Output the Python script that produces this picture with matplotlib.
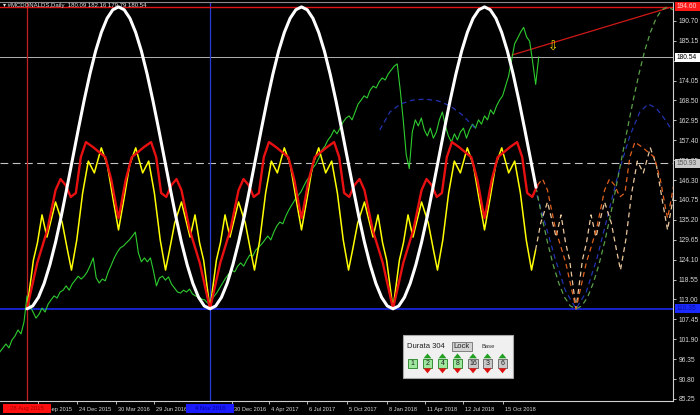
import numpy as np
import matplotlib.pyplot as plt
from matplotlib.patches import Rectangle, Polygon
import matplotlib.transforms as mtransforms

plt.rcParams['font.family'] = ['Liberation Sans', 'DejaVu Sans']

# ---------------- data ----------------
cycle_len = 304      # "Durata 304"
last_bar = 850       # last daily bar, counted from the red vertical line

# half cycle (trough -> crest) of each cycle line, phase as fraction of a cycle
white_phase = np.arange(17) / 32
white_half = [110.4, 111.2, 113.6, 117.5, 122.7, 129.0, 136.3, 144.3, 152.5,
              160.7, 168.6, 175.9, 182.3, 187.5, 191.4, 193.8, 194.6]

red_phase = [0.0, 0.056, 0.111, 0.156, 0.183, 0.211, 0.239, 0.267, 0.294,
             0.322, 0.361, 0.394, 0.428, 0.461, 0.489, 0.5]
red_half = [110.4, 123.2, 132.4, 143.5, 146.6, 144.9, 141.6, 142.7, 152.7,
            156.9, 155.5, 154.1, 152.7, 146.3, 138.5, 135.7]

yellow_phase = [0.0, 0.035, 0.057, 0.082, 0.109, 0.156, 0.193, 0.221, 0.243,
                0.272, 0.304, 0.335, 0.368, 0.406, 0.439, 0.471, 0.5]
yellow_half = [110.4, 124.0, 128.8, 136.6, 130.4, 140.2, 134.3, 126.8, 121.2,
               129.6, 142.7, 151.6, 148.3, 155.3, 150.5, 140.8, 132.4]

# close prices, one every 5 bars starting 45 bars before the red line
close = [98.4, 99.5, 100.6, 99.5, 101.7, 102.8, 104.5, 103.4, 106.7, 114.0,
         111.2, 109.5, 107.8, 108.9, 110.6, 109.5, 111.7, 112.9, 114.0, 113.4,
         115.1, 115.6, 116.8, 115.6, 117.3, 118.4, 119.5, 118.7, 119.5, 120.7,
         122.5, 124.6, 119.0, 117.6, 118.7, 118.2, 120.7, 122.6, 124.6, 126.2,
         127.4, 127.9, 128.8, 129.6, 130.7, 131.8, 126.0, 123.5, 124.6, 123.5,
         124.6, 121.0, 116.8, 119.0, 119.5, 118.4, 119.3, 117.3, 116.2, 115.1,
         114.8, 115.6, 115.1, 115.9, 114.5, 114.0, 113.7, 113.1, 112.9, 112.0,
         112.6, 113.7, 114.8, 116.2, 117.6, 119.0, 120.1, 121.2, 120.7, 122.3,
         123.2, 122.3, 124.0, 125.4, 125.1, 126.8, 127.6, 128.5, 129.6, 130.7,
         129.6, 131.8, 133.5, 134.6, 134.1, 136.3, 138.0, 139.4, 140.8, 141.9,
         143.0, 144.7, 146.3, 147.4, 149.7, 150.8, 152.5, 154.7, 155.8, 157.5,
         158.6, 160.3, 159.2, 160.8, 162.5, 163.6, 164.2, 163.1, 165.3, 167.5,
         168.6, 169.8, 169.2, 171.4, 172.5, 172.0, 173.7, 174.8, 174.2, 175.9,
         177.0, 178.1, 178.7, 171.4, 163.0, 153.3, 149.5, 159.7, 163.1, 161.4,
         163.6, 160.3, 158.6, 160.8, 158.0, 159.7, 163.1, 165.3, 161.4, 158.6,
         156.9, 159.2, 157.5, 159.7, 160.8, 158.0, 160.3, 161.9, 160.8, 163.1,
         161.9, 164.2, 163.1, 165.9, 164.7, 167.0, 168.6, 169.8, 172.5, 175.3,
         179.8, 184.3, 185.9, 187.6, 188.9, 186.2, 185.0, 179.2, 173.0, 180.6]
close_start, close_step = -45, 5

# blue dashed cycle pieces
blue_mid_bars = [586, 603, 620, 640, 661, 683, 703, 723, 744]
blue_mid = [160.3, 165.3, 167.5, 168.6, 168.9, 168.4, 167.0, 164.5, 160.8]
blue_proj_bars = [847, 860, 877, 894, 912, 929, 947, 965, 983, 1002, 1018,
                  1032, 1045, 1058, 1071]
blue_proj = [142.1, 134.6, 124.6, 115.6, 110.4, 115.1, 124.6, 136.6, 148.6,
             158.9, 165.3, 167.5, 166.4, 163.6, 160.3]

trend_bars = [806, 1065]
trend_price = [181.2, 194.3]

top_level = 194.60
last_close = 180.54
mid_level = 150.93
base_level = 110.35

ytick_vals = [85.25, 90.80, 96.35, 101.90, 107.45, 113.00, 118.55, 124.10,
              129.65, 135.20, 140.75, 146.30, 151.85, 157.40, 162.95, 168.50,
              174.05, 179.60, 185.15, 190.70]
date_bars = [18, 83, 148, 211, 341, 402, 465, 532, 598, 661, 724, 791]
date_labels = ['17 Sep 2015', '24 Dec 2015', '30 Mar 2016', '29 Jun 2016',
               '30 Dec 2016', '4 Apr 2017', '6 Jul 2017',
               '5 Oct 2017', '8 Jan 2018', '11 Apr 2018', '12 Jul 2018',
               '15 Oct 2018']


def full_cycles(phase, half, n=4):
    phase = np.asarray(phase, float)
    half = np.asarray(half, float)
    ph = np.concatenate([phase, 1 - phase[-2::-1]])
    val = np.concatenate([half, half[-2::-1]])
    xs = [(c + ph[:-1]) * cycle_len for c in range(n)]
    ys = [val[:-1] for c in range(n)]
    return np.concatenate(xs), np.concatenate(ys)


def split(x, y):
    i = np.searchsorted(x, last_bar, side='right') - 1
    return (x[:i + 1], y[:i + 1]), (x[i:], y[i:])


# ---------------- figure ----------------
px_per_bar = 0.602
fig = plt.figure(figsize=(7, 4.15), dpi=100, facecolor='black')
ax = fig.add_axes([0, 14 / 415, 673 / 700, 399 / 415], facecolor='black')
ax.set_xlim(-27 / px_per_bar, 646 / px_per_bar)
ax.set_ylim(84.69, 195.97)

ax.spines['left'].set_visible(False)
ax.spines['top'].set_color('#8a8a8a')
for s in ('right', 'bottom'):
    ax.spines[s].set_color('#d0d0d0')
    ax.spines[s].set_linewidth(0.8)

ax.yaxis.tick_right()
ax.set_yticks(ytick_vals)
# the 179.60 tag sits under the last-price box
ax.set_yticklabels(['' if v == 179.60 else f'{v:.2f}' for v in ytick_vals])
ax.set_xticks(date_bars)
ax.set_xticklabels(date_labels)
ax.tick_params(axis='both', colors='#d8d8d8', length=2.5, width=0.6, pad=1.5)
ax.tick_params(axis='y', labelsize=4.8)
ax.tick_params(axis='x', labelsize=4.1)
shift = mtransforms.ScaledTranslation(1.5 / 72, 0, fig.dpi_scale_trans)
for lbl in ax.get_xticklabels():
    lbl.set_ha('left')
    lbl.set_transform(lbl.get_transform() + shift)

# level lines
ax.axhline(top_level, color='#e01414', lw=1.0, zorder=1.5)
ax.axhline(last_close, color='#b4b4b4', lw=0.7, zorder=1)
ax.axhline(mid_level, color='#c4c4c4', lw=0.8, dashes=(7, 4), zorder=1)
ax.axhline(base_level, color='#1c2cff', lw=1.1, zorder=1)
ax.axvline(0, color='#c02020', lw=0.9, zorder=1)
ax.axvline(cycle_len, color='#2a3ad0', lw=0.9, zorder=1)
ax.plot(trend_bars, trend_price, color='#d01818', lw=0.9, zorder=1.6)

# price
bars = close_start + close_step * np.arange(len(close))
ax.plot(bars, close, color='#2ecc2e', lw=0.8, zorder=2)

# blue dashed cycle
ax.plot(blue_mid_bars, blue_mid, color='#2232b0', lw=0.9, dashes=(4, 3), zorder=2.2)
ax.plot(blue_proj_bars, blue_proj, color='#2232b0', lw=0.9, dashes=(4, 3), zorder=2.2)

# cycle lines: solid up to the last bar, dashed projection after it
styles = [(yellow_phase, yellow_half, '#ffff00', 1.1, '#eac79e', 3.0),
          (red_phase, red_half, '#e81010', 1.7, '#e0601e', 3.2),
          (white_phase, white_half, '#ffffff', 2.2, '#5aa048', 3.4)]
for ph, half, col, lw, pcol, z in styles:
    x, y = full_cycles(ph, half)
    (xs, ys), (xp, yp) = split(x, y)
    ax.plot(xs, ys, color=col, lw=lw, zorder=z, solid_capstyle='round')
    ax.plot(xp, yp, color=pcol, lw=0.9, dashes=(4, 3), zorder=2.5)

ax.text(874, 183.4, '\u21e9', color='#ffd700', fontsize=9, ha='center',
        va='center', family='DejaVu Sans', zorder=5)

# ---------------- overlay in pixel coordinates ----------------
ov = fig.add_axes([0, 0, 1, 1], facecolor='none', zorder=5)
ov.set_xlim(0, 700)
ov.set_ylim(415, 0)
ov.axis('off')


def to_px(bar, price):
    dx, dy = ax.transData.transform((bar, price))
    return dx, 415 - dy


ov.text(3, 6, '\u25be #MCDONALDS,Daily  180.09 182.16 179.79 180.54',
        fontsize=4.3, color='#e8e8e8', va='center')

# price tags on the right scale
for price, txt, fc, tc in [(top_level, f'{top_level:.2f}', '#ff1a1a', '#ffd0d0'),
                           (last_close, f'{last_close:.2f}', '#ffffff', '#000000'),
                           (mid_level, f'{mid_level:.2f}', '#c8c8c8', '#555555'),
                           (base_level, f'{base_level:.2f}', '#1a2aff', '#0a10a0')]:
    _, yp = to_px(0, price)
    ov.add_patch(Rectangle((675, yp - 4.5), 25, 9, fc=fc, ec='none'))
    ov.text(677, yp, txt, fontsize=4.8, color=tc, va='center', ha='left')

# time tags of the vertical lines
for bar, txt, fc, tc in [(0, '28 Aug 2015', '#ff1010', '#a00000'),
                         (cycle_len, '4 Nov 2016', '#1a1aff', '#00008c')]:
    xp, _ = to_px(bar, 100)
    ov.add_patch(Rectangle((xp - 24, 403.5), 48, 9.5, fc=fc, ec='none'))
    ov.text(xp, 408.3, txt, fontsize=4.3, color=tc, va='center', ha='center')

# control panel
ov.add_patch(Rectangle((403, 335), 110, 43, fc='#f0f0f0', ec='#a8a8a8', lw=0.8))
ov.text(407, 346.5, 'Durata 304', fontsize=5.5, color='#202020', va='center')
ov.add_patch(Rectangle((452, 341.5), 20, 9.5, fc='#d4d4d4', ec='#707070', lw=0.6))
ov.text(462, 346.3, 'Lock', fontsize=5.5, color='#202020', va='center', ha='center')
ov.text(482, 346.5, 'Base', fontsize=4.2, color='#303030', va='center')

buttons = ['1', '2', '4', '8', '16', '3', '6']
active = [True, True, True, True, False, False, False]
lefts = [408, 423, 438, 453, 468, 483, 498]
for i, (b, on, l) in enumerate(zip(buttons, active, lefts)):
    w = 10 if len(b) > 1 else 9
    ov.add_patch(Rectangle((l, 359), w, 8.5,
                           fc='#9ee89e' if on else '#c8c8c8',
                           ec='#208020' if on else '#606060', lw=0.6))
    ov.text(l + w / 2, 363.4, b, fontsize=5, color='#202020',
            ha='center', va='center')
    if i > 0:
        cx = l + w / 2
        ov.add_patch(Polygon([(cx - 4, 358.3), (cx + 4, 358.3), (cx, 353.5)],
                             fc='#22a022', ec='none'))
        ov.add_patch(Polygon([(cx - 4, 368.3), (cx + 4, 368.3), (cx, 373.3)],
                             fc='#e01010', ec='none'))

fig.savefig('out.png', dpi=100, facecolor='black')
